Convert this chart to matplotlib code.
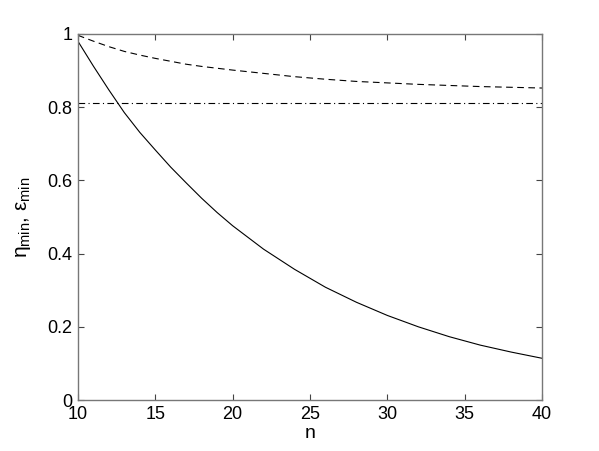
import numpy as np
import matplotlib
matplotlib.use("Agg")
import matplotlib.pyplot as plt

#%% Data
n = [10, 11, 12, 13, 14, 15, 16, 17, 18, 19, 20,
     22, 24, 26, 28, 30, 32, 34, 36, 38, 40]
eta_min = [0.98, 0.912, 0.847, 0.785, 0.731, 0.683, 0.636, 0.593, 0.551, 0.512, 0.476,
           0.412, 0.357, 0.308, 0.267, 0.231, 0.200, 0.173, 0.150, 0.131, 0.114]
eps_min = [0.996, 0.98, 0.965, 0.952, 0.942, 0.933, 0.925, 0.917, 0.911, 0.906, 0.901,
           0.892, 0.883, 0.876, 0.870, 0.866, 0.862, 0.859, 0.856, 0.854, 0.852]
const_level = [0.81, 0.81]
const_n = [10, 40]

#%% Plot
plt.rcParams["font.family"] = ["Liberation Sans", "DejaVu Sans"]
plt.rcParams["mathtext.fontset"] = "custom"
plt.rcParams["mathtext.rm"] = "Liberation Sans"
plt.rcParams["mathtext.it"] = "Liberation Sans"
plt.rcParams["font.size"] = 13

fig = plt.figure(figsize=(5.99, 4.51), dpi=100)
ax = fig.add_axes([0.130, 0.113, 0.775, 0.812])

ax.plot(n, eta_min, "k-", lw=0.8)
ax.plot(n, eps_min, "k--", lw=0.8, dashes=(6, 4))
ax.plot(const_n, const_level, "k-.", lw=0.8, dashes=(6, 3, 1, 3))

ax.set_xlim(10, 40)
ax.set_ylim(0, 1)
ax.set_xticks([10, 15, 20, 25, 30, 35, 40])
ax.set_yticks([0, 0.2, 0.4, 0.6, 0.8, 1])
ax.set_yticklabels(["0", "0.2", "0.4", "0.6", "0.8", "1"])
ax.tick_params(direction="in", top=True, right=True, length=4, width=0.8,
               color="#444444", labelsize=13, pad=4)
for sp in ax.spines.values():
    sp.set_color("#777777")
    sp.set_linewidth(1.0)

ax.set_xlabel("n", fontsize=14, labelpad=2)
ax.set_ylabel(r"$\eta_{\rm min}$, $\epsilon_{\rm min}$", fontsize=15, labelpad=10)

fig.savefig("out.png", dpi=100)
